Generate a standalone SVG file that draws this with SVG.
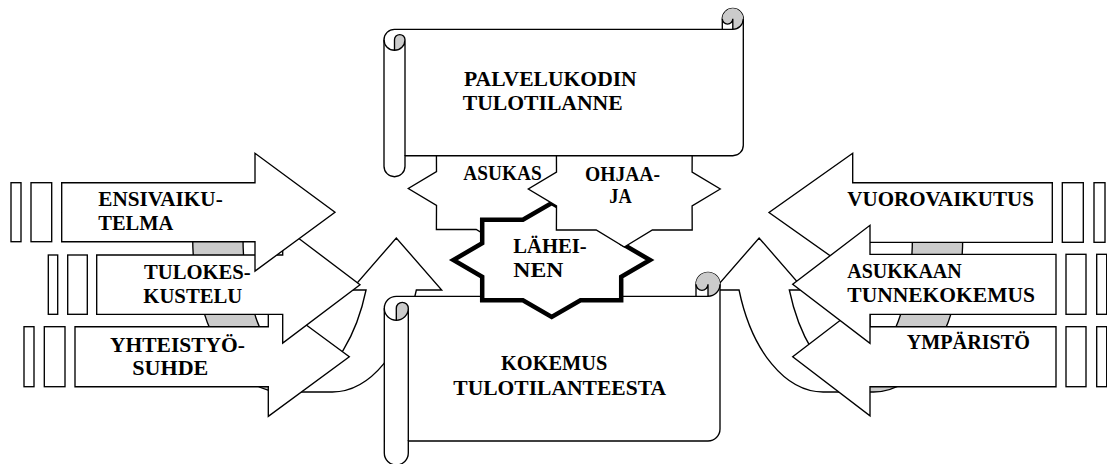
<svg xmlns="http://www.w3.org/2000/svg" width="1107" height="464" viewBox="0 0 1107 464">
<style>
.ln{fill:#fff;stroke:#000;stroke-width:1.35;stroke-linejoin:miter}
.nf{fill:none;stroke:#000;stroke-width:1.35}
.wf{fill:#fff;stroke:none}
.dk{fill:#cbcbcb;stroke:none}
.thick{fill:#fff;stroke:#000;stroke-width:4.5;stroke-linejoin:miter}
.t{font-family:"Liberation Serif","DejaVu Serif",serif;font-weight:bold;font-size:21px;fill:#000}
</style>
<rect width="1107" height="464" fill="#fff"/>
<g id="connectors">
  <g id="curved-left">
    <path class="wf" d="M396.3,238 L441.7,290 L416.35,290 A89.3,154 0 0 1 332.3,392 L282,392 A89.3,154 0 0 0 366.05,290 L351,290 Z"/>
    <path class="dk" d="M282,392 A89.3,154 0 0 1 192.7,238 L243,238 A89.3,154 0 0 0 307.15,385.77 A89.3,154 0 0 1 282,392 Z"/>
    <path class="nf" d="M307.15,385.77 A89.3,154 0 0 0 366.05,290 L351,290 L396.3,238 L441.7,290 L416.35,290 A89.3,154 0 0 1 332.3,392 L282,392 A89.3,154 0 0 1 192.7,238 L243,238 A89.3,154 0 0 0 307.15,385.77"/>
  </g>
  <g id="curved-right" transform="matrix(-1 0 0 1 1155.4 0)">
    <path class="wf" d="M396.3,238 L441.7,290 L416.35,290 A89.3,154 0 0 1 332.3,392 L282,392 A89.3,154 0 0 0 366.05,290 L351,290 Z"/>
    <path class="dk" d="M282,392 A89.3,154 0 0 1 192.7,238 L243,238 A89.3,154 0 0 0 307.15,385.77 A89.3,154 0 0 1 282,392 Z"/>
    <path class="nf" d="M307.15,385.77 A89.3,154 0 0 0 366.05,290 L351,290 L396.3,238 L441.7,290 L416.35,290 A89.3,154 0 0 1 332.3,392 L282,392 A89.3,154 0 0 1 192.7,238 L243,238 A89.3,154 0 0 0 307.15,385.77"/>
  </g>
</g>
<g id="yhteistyosuhde">
  <rect class="ln" x="24" y="326.7" width="10" height="60"/>
  <rect class="ln" x="44.3" y="326.7" width="20.7" height="60"/>
  <polygon class="ln" points="75,326.7 268.3,326.7 268.3,297 349.3,356.7 268.3,416.4 268.3,386.7 75,386.7"/>
  <text class="t" x="110" y="351.7" textLength="135" lengthAdjust="spacingAndGlyphs">YHTEISTYÖ-</text>
  <text class="t" x="132.3" y="375" textLength="76" lengthAdjust="spacingAndGlyphs">SUHDE</text>
</g>
<g id="tulokeskustelu">
  <rect class="ln" x="48.3" y="255" width="9.4" height="59.3"/>
  <rect class="ln" x="67.7" y="255" width="19.6" height="59.3"/>
  <polygon class="ln" points="96.7,255 282.7,255 282.7,226.3 360,284.7 282.7,343.1 282.7,314.3 96.7,314.3"/>
  <text class="t" x="144" y="279.3" textLength="106.7" lengthAdjust="spacingAndGlyphs">TULOKES-</text>
  <text class="t" x="143.3" y="302.7" textLength="99" lengthAdjust="spacingAndGlyphs">KUSTELU</text>
</g>
<g id="ensivaikutelma">
  <rect class="ln" x="11" y="182.7" width="10" height="59"/>
  <rect class="ln" x="31" y="182.7" width="20.7" height="59"/>
  <polygon class="ln" points="61.7,182.7 255,182.7 255,153.3 335,212.2 255,271.1 255,241.7 61.7,241.7"/>
  <text class="t" x="98.3" y="206" textLength="124.4" lengthAdjust="spacingAndGlyphs">ENSIVAIKU-</text>
  <text class="t" x="98.3" y="230" textLength="75" lengthAdjust="spacingAndGlyphs">TELMA</text>
</g>
<g id="vuorovaikutus">
  <rect class="ln" x="1062.3" y="182.7" width="21" height="59.6"/>
  <rect class="ln" x="1094" y="182.7" width="11" height="59.6"/>
  <polygon class="ln" points="1052.3,182.7 852.7,182.7 852.7,153.3 769,212.5 852.7,271.7 852.7,242.3 1052.3,242.3"/>
  <text class="t" x="847.3" y="206" textLength="186.7" lengthAdjust="spacingAndGlyphs">VUOROVAIKUTUS</text>
</g>
<g id="ymparisto">
  <rect class="ln" x="1066" y="326.7" width="20" height="60"/>
  <rect class="ln" x="1096.7" y="326.7" width="10" height="60"/>
  <polygon class="ln" points="1056,326.7 870,326.7 870,297.5 792.7,356.7 870,415.9 870,386.7 1056,386.7"/>
  <text class="t" x="906.7" y="349.3" textLength="123.3" lengthAdjust="spacingAndGlyphs">YMPÄRISTÖ</text>
</g>
<g id="asukkaan-tunnekokemus">
  <rect class="ln" x="1066" y="254.3" width="20" height="60"/>
  <rect class="ln" x="1096.7" y="254.3" width="10" height="60"/>
  <polygon class="ln" points="1056,254.3 870,254.3 870,225.3 792.7,284.3 870,343.3 870,314.3 1056,314.3"/>
  <text class="t" x="847.3" y="278.3" textLength="114.4" lengthAdjust="spacingAndGlyphs">ASUKKAAN</text>
  <text class="t" x="847.3" y="301.7" textLength="187.7" lengthAdjust="spacingAndGlyphs">TUNNEKOKEMUS</text>
</g>
<g id="kokemus-tulotilanteesta">
  <path class="ln" d="M384.3,308.3 A12,12 0 0 1 396.3,296.3 L696,296.3 L696,284.3 A12,12 0 0 1 720,284.3 L720,429 A12,12 0 0 1 708,441 L408.3,441 L408.3,453 A12,12 0 0 1 384.3,453 Z"/>
  <path class="dk" d="M396.3,320.3 A12,12 0 0 0 408.3,308.3 A6,6 0 0 0 396.3,308.3 Z"/>
  <path class="dk" d="M708,296.3 A12,12 0 1 0 696,284.3 A6,6 0 0 0 708,284.3 Z"/>
  <path class="nf" d="M696,296.3 L708,296.3 A12,12 0 0 0 720,284.3 M708,296.3 L708,284.3 A6,6 0 0 1 696,284.3 M396.3,320.3 L396.3,308.3 A6,6 0 0 1 408.3,308.3 A12,12 0 0 1 384.3,308.3 M408.3,308.3 L408.3,441"/>
  <text class="t" x="501" y="370" textLength="106.3" lengthAdjust="spacingAndGlyphs">KOKEMUS</text>
  <text class="t" x="453.3" y="395" textLength="212.7" lengthAdjust="spacingAndGlyphs">TULOTILANTEESTA</text>
</g>
<g id="asukas">
  <polygon class="ln" points="600.3,188.5 572.1,205.5 572.2,229.5 532.4,229.5 504.3,246.5 476.2,229.5 436.4,229.5 436.5,205.5 408.3,188.5 436.5,171.5 436.4,147.5 476.2,147.5 504.3,130.5 532.4,147.5 572.2,147.5 572.1,171.5"/>
  <text class="t" x="463.3" y="180" textLength="78.4" lengthAdjust="spacingAndGlyphs">ASUKAS</text>
</g>
<g id="laheinen">
  <polygon class="thick" points="650,260 621.2,276.7 621.2,300.3 580.5,300.3 551.7,317 522.9,300.3 482.2,300.3 482.2,276.7 453.4,260 482.2,243.3 482.2,219.7 522.9,219.7 551.7,203 580.5,219.7 621.2,219.7 621.2,243.3"/>
  <text class="t" x="513.3" y="253.3" textLength="73.4" lengthAdjust="spacingAndGlyphs">LÄHEI-</text>
  <text class="t" x="513.3" y="276.7" textLength="50" lengthAdjust="spacingAndGlyphs">NEN</text>
</g>
<g id="ohjaaja">
  <polygon class="ln" points="720.3,189 692.1,206 692.2,230 652.4,230 624.3,247 596.2,230 556.4,230 556.5,206 528.3,189 556.5,172 556.4,148 596.2,148 624.3,131 652.4,148 692.2,148 692.1,172"/>
  <text class="t" x="585" y="180.7" textLength="75" lengthAdjust="spacingAndGlyphs">OHJAA-</text>
  <text class="t" x="609.3" y="203.3" textLength="22.4" lengthAdjust="spacingAndGlyphs">JA</text>
</g>
<g id="palvelukodin-tulotilanne">
  <path class="ln" d="M384,39.8 A10.5,10.5 0 0 1 394.5,29.3 L722.3,29.3 L722.3,18.8 A10.5,10.5 0 0 1 743.3,18.8 L743.3,145.2 A10.5,10.5 0 0 1 732.8,155.7 L405,155.7 L405,166.2 A10.5,10.5 0 0 1 384,166.2 Z"/>
  <path class="dk" d="M394.5,50.3 A10.5,10.5 0 0 0 405,39.8 A5.25,5.25 0 0 0 394.5,39.8 Z"/>
  <path class="dk" d="M732.8,29.3 A10.5,10.5 0 1 0 722.3,18.8 A5.25,5.25 0 0 0 732.8,18.8 Z"/>
  <path class="nf" d="M722.3,29.3 L732.8,29.3 A10.5,10.5 0 0 0 743.3,18.8 M732.8,29.3 L732.8,18.8 A5.25,5.25 0 0 1 722.3,18.8 M394.5,50.3 L394.5,39.8 A5.25,5.25 0 0 1 405,39.8 A10.5,10.5 0 0 1 384,39.8 M405,39.8 L405,155.7"/>
  <text class="t" x="464" y="86" textLength="172.7" lengthAdjust="spacingAndGlyphs">PALVELUKODIN</text>
  <text class="t" x="462.7" y="110" textLength="160" lengthAdjust="spacingAndGlyphs">TULOTILANNE</text>
</g>
</svg>
